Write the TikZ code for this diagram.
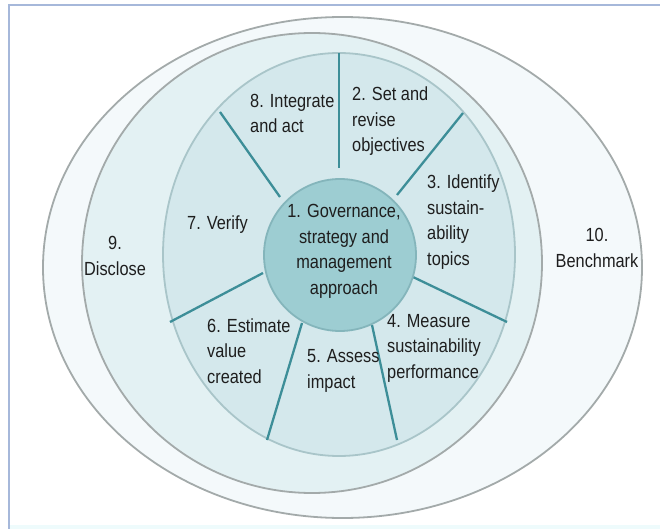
\documentclass[tikz,border=0pt]{standalone}
\usepackage{fontspec}
\setmainfont[FakeStretch=0.86]{Liberation Sans}
\definecolor{framec}{HTML}{A6B8DA}
\definecolor{bandc}{HTML}{EEFBFC}
\definecolor{ringline}{HTML}{A3AAAA}
\definecolor{outerfill}{HTML}{F4F9FB}
\definecolor{midfill}{HTML}{E3F1F3}
\definecolor{innerfill}{HTML}{D4E8EC}
\definecolor{innerline}{HTML}{A9C5C9}
\definecolor{spokec}{HTML}{3D8E98}
\definecolor{hubfill}{HTML}{9DCDD2}
\definecolor{hubline}{HTML}{84B5BB}
\definecolor{inkc}{HTML}{1E1E1E}
\begin{document}
\begin{tikzpicture}[x=1pt,y=-1pt,
  ring/.style={draw=ringline,line width=1.8pt},
  spoke/.style={draw=spokec,line width=2.3pt},
  lbl/.style={text=inkc,inner sep=0pt,font=\fontsize{19}{25.5}\selectfont},
  lbll/.style={lbl,align=left,anchor=base west},
  lblc/.style={lbl,align=center,anchor=base}]
\useasboundingbox (0,0) rectangle (660,529);
% page frame
\fill[bandc] (9,525) rectangle (660,529);
\draw[framec,line width=2pt] (9,529) -- (9,5) -- (660,5);
% nested rings
\draw[ring,fill=outerfill] (342.5,267.5) ellipse [x radius=299.5,y radius=250.5];
\draw[ring,fill=midfill] (312,263) ellipse [x radius=230,y radius=230];
\draw[draw=innerline,line width=1.8pt,fill=innerfill] (339,254.5) ellipse [x radius=176,y radius=201.5];
% spoke ends on the wheel rim and near the hub
\coordinate (r1) at (339,53);   \coordinate (h1) at (339,168);
\coordinate (r2) at (463,113);  \coordinate (h2) at (397,195);
\coordinate (r3) at (507,322);  \coordinate (h3) at (413,277);
\coordinate (r4) at (397,440);  \coordinate (h4) at (372,325);
\coordinate (r5) at (267,440);  \coordinate (h5) at (302,323);
\coordinate (r6) at (170,322);  \coordinate (h6) at (263,273);
\coordinate (r7) at (220,112);  \coordinate (h7) at (280,197);
\foreach \k in {1,...,7} \draw[spoke] (r\k) -- (h\k);
% hub
\draw[draw=hubline,line width=1.8pt,fill=hubfill] (340,255) circle [radius=76];
% labels (positioned by the baseline of their last line)
\node[lblc] (t1) at (344,294) {1. Governance,\\strategy and\\management\\approach};
\node[lbll] (t2) at (352,152) {2. Set and\\revise\\objectives};
\node[lbll] (t3) at (427,265) {3. Identify\\sustain-\\ability\\topics};
\node[lbll] (t4) at (387,378) {4. Measure\\sustainability\\performance};
\node[lbll] (t5) at (307,388) {5. Assess\\impact};
\node[lbll] (t6) at (207,383) {6. Estimate\\value\\created};
\node[lbll] (t7) at (187,229) {7. Verify};
\node[lbll] (t8) at (250,133) {8. Integrate\\and act};
\node[lblc] (t9) at (115,275) {9.\\Disclose};
\node[lblc] (t10) at (597,267) {10.\\Benchmark};
\end{tikzpicture}
\end{document}
